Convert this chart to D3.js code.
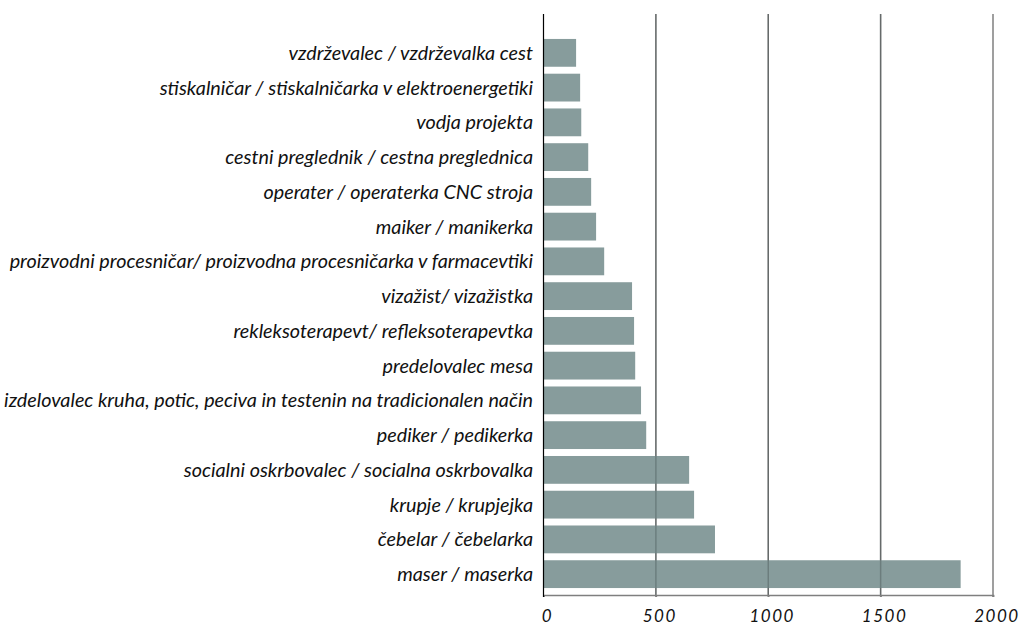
<!DOCTYPE html>
<html>
<head>
<meta charset="utf-8">
<script src="https://cdn.jsdelivr.net/npm/d3@7"></script>
<style>
  body { margin: 0; background: #fff; }
  svg text { font-family: Lato, "Open Sans", sans-serif; font-style: italic; fill: #111; }
</style>
</head>
<body>
<div id="chart"></div>
<script>
// Horizontal bar chart

var svgWidth = 1021;
var svgHeight = 625;

// top to bottom
var categories = [
    "vzdrževalec / vzdrževalka cest",
    "stiskalničar / stiskalničarka v elektroenergetiki",
    "vodja projekta",
    "cestni preglednik / cestna preglednica",
    "operater / operaterka CNC stroja",
    "maiker / manikerka",
    "proizvodni procesničar/ proizvodna procesničarka v farmacevtiki",
    "vizažist/ vizažistka",
    "rekleksoterapevt/ refleksoterapevtka",
    "predelovalec mesa",
    "izdelovalec kruha, potic, peciva in testenin na tradicionalen način",
    "pediker / pedikerka",
    "socialni oskrbovalec / socialna oskrbovalka",
    "krupje / krupjejka",
    "čebelar / čebelarka",
    "maser / maserka"
];
var values = [145, 163, 168, 199, 212, 234, 270, 394, 403, 408, 434, 457, 648, 670, 763, 1856];
var xTicks = [0, 500, 1000, 1500, 2000];

var svg = d3.select("#chart")
    .append("svg")
        .attr("width", svgWidth)
        .attr("height", svgHeight);

var plotTop = 14;
var plotBottom = 595;

var x = d3.scaleLinear()
    .domain([0, 2000])
    .range([543.5, 993]);

var y = d3.scaleBand()
    .domain(categories)
    .range([32, plotBottom])
    .padding(0.2);

// grid lines
svg.selectAll("gridline")
    .data(xTicks.slice(1))
    .enter().append("line")
        .attr("x1", function(d) { return x(d); })
        .attr("x2", function(d) { return x(d); })
        .attr("y1", plotTop)
        .attr("y2", plotBottom + 2)
        .attr("stroke", "#7f7f7f")
        .attr("stroke-width", 1.5);

// bars
svg.selectAll("bar")
    .data(values)
    .enter().append("rect")
        .attr("x", x(0))
        .attr("y", function(d, i) { return y(categories[i]); })
        .attr("width", function(d) { return x(d) - x(0); })
        .attr("height", y.bandwidth())
        .attr("fill", "#879c9c");

// grid lines show through bars slightly darker
svg.selectAll("gridover")
    .data(xTicks.slice(1, 4))
    .enter().append("line")
        .attr("x1", function(d) { return x(d); })
        .attr("x2", function(d) { return x(d); })
        .attr("y1", plotTop)
        .attr("y2", plotBottom)
        .attr("stroke", "#3a4444")
        .attr("stroke-opacity", 0.35)
        .attr("stroke-width", 1.5);

// bottom axis
var xAxis = svg.append("g")
    .attr("transform", "translate(0," + plotBottom + ")")
    .call(d3.axisBottom(x).tickValues(xTicks).tickFormat(d3.format("d")).tickSize(2).tickPadding(13));
xAxis.select(".domain").attr("stroke", "#7f7f7f").attr("stroke-width", 1.5);
xAxis.selectAll(".tick line").attr("stroke", "#7f7f7f").attr("stroke-width", 1.5);
xAxis.selectAll("text")
    .attr("dx", "0.2em")
    .style("font-size", "17px")
    .style("font-family", "Lato, sans-serif")
    .style("font-style", "italic")
    .style("letter-spacing", "1.5px")
    .attr("fill", "#111");

// zero line
svg.append("line")
    .attr("x1", x(0)).attr("x2", x(0))
    .attr("y1", plotTop).attr("y2", plotBottom + 2)
    .attr("stroke", "#000")
    .attr("stroke-width", 1.2);

// category labels
svg.selectAll("label")
    .data(categories)
    .enter().append("text")
        .attr("x", 533)
        .attr("y", function(d) { return y(d) + y.bandwidth() / 2; })
        .attr("dy", "0.35em")
        .attr("text-anchor", "end")
        .style("font-size", "19.8px")
        .text(function(d) { return d; });
</script>
</body>
</html>
